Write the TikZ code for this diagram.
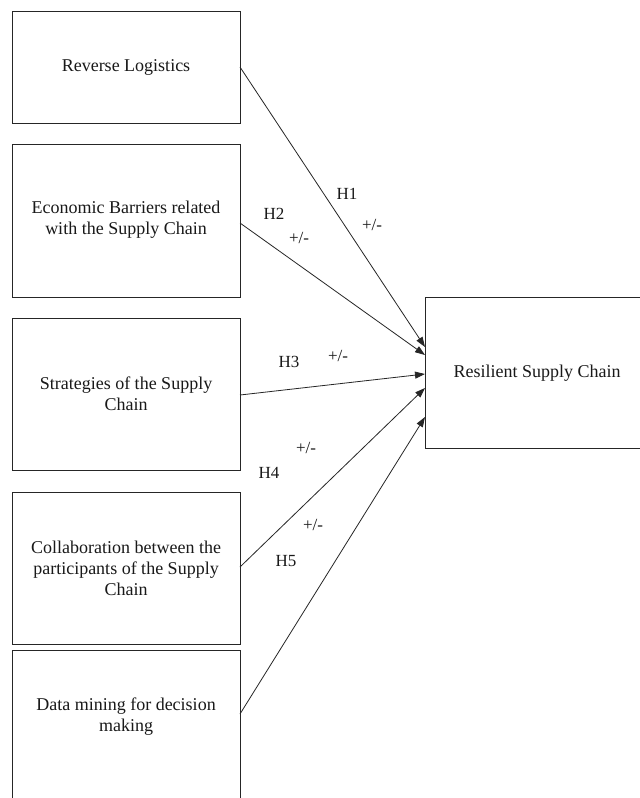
\documentclass[tikz,border=0pt]{standalone}
\usepackage{fontspec}
\setmainfont{Liberation Serif}
\usetikzlibrary{arrows.meta}
\begin{document}
\begin{tikzpicture}[x=1pt,y=-1pt,
  box/.style={draw=black!85,line width=0.9pt,minimum width=228pt,inner sep=0pt,outer sep=0pt},
  boxtext/.style={align=center,font=\fontsize{18}{21}\selectfont,text=black!90},
  lbl/.style={font=\fontsize{17}{20}\selectfont,text=black!90,inner sep=0pt},
  link/.style={draw=black!85,line width=0.8pt,-{Triangle[length=10pt,width=7pt]}}]
\useasboundingbox (0,0) rectangle (640,798);
\clip (0,0) rectangle (640,798);
\fill[white] (0,0) rectangle (640,798);
% left boxes
\node[box,minimum height=112pt] (b1) at (126,67) {};
\node[box,minimum height=153pt] (b2) at (126,220.5) {};
\node[box,minimum height=152pt] (b3) at (126,394) {};
\node[box,minimum height=152pt] (b4) at (126,568) {};
\node[box,minimum height=180pt] (b5) at (126,740) {};
\node[boxtext] (t1) at (126,67) {Reverse Logistics};
\node[boxtext] (t2) at (126,220) {Economic Barriers related\\with the Supply Chain};
\node[boxtext] (t3) at (126,394) {Strategies of the Supply\\Chain};
\node[boxtext] (t4) at (126,568) {Collaboration between the\\participants of the Supply\\Chain};
\node[boxtext] (t5) at (126,717) {Data mining for decision\\making};
% right box
\node[box,minimum height=151pt] (rs) at (539,372.5) {};
\node[boxtext] (trs) at (537,373) {Resilient Supply Chain};
% connectors
\draw[link] (b1.east) -- ([yshift=25.5pt]rs.west);
\draw[link] ([yshift=-2.5pt]b2.east) -- ([yshift=17.5pt]rs.west);
\draw[link] ([yshift=-1pt]b3.east) -- ([yshift=-1.5pt]rs.west);
\draw[link] ([yshift=1pt]b4.east) -- ([yshift=-15.5pt]rs.west);
\draw[link] ([yshift=26pt]b5.east) -- ([yshift=-44.5pt]rs.west);
% labels
\node[lbl] (h1) at (347,194) {H1};
\node[lbl] (p1) at (372,225) {+/-};
\node[lbl] (h2) at (274,214) {H2};
\node[lbl] (p2) at (299,238) {+/-};
\node[lbl] (h3) at (289,362) {H3};
\node[lbl] (p3) at (338,356) {+/-};
\node[lbl] (p4) at (306,448) {+/-};
\node[lbl] (h4) at (269,473) {H4};
\node[lbl] (p5) at (313,525) {+/-};
\node[lbl] (h5) at (286,561) {H5};
\end{tikzpicture}
\end{document}
